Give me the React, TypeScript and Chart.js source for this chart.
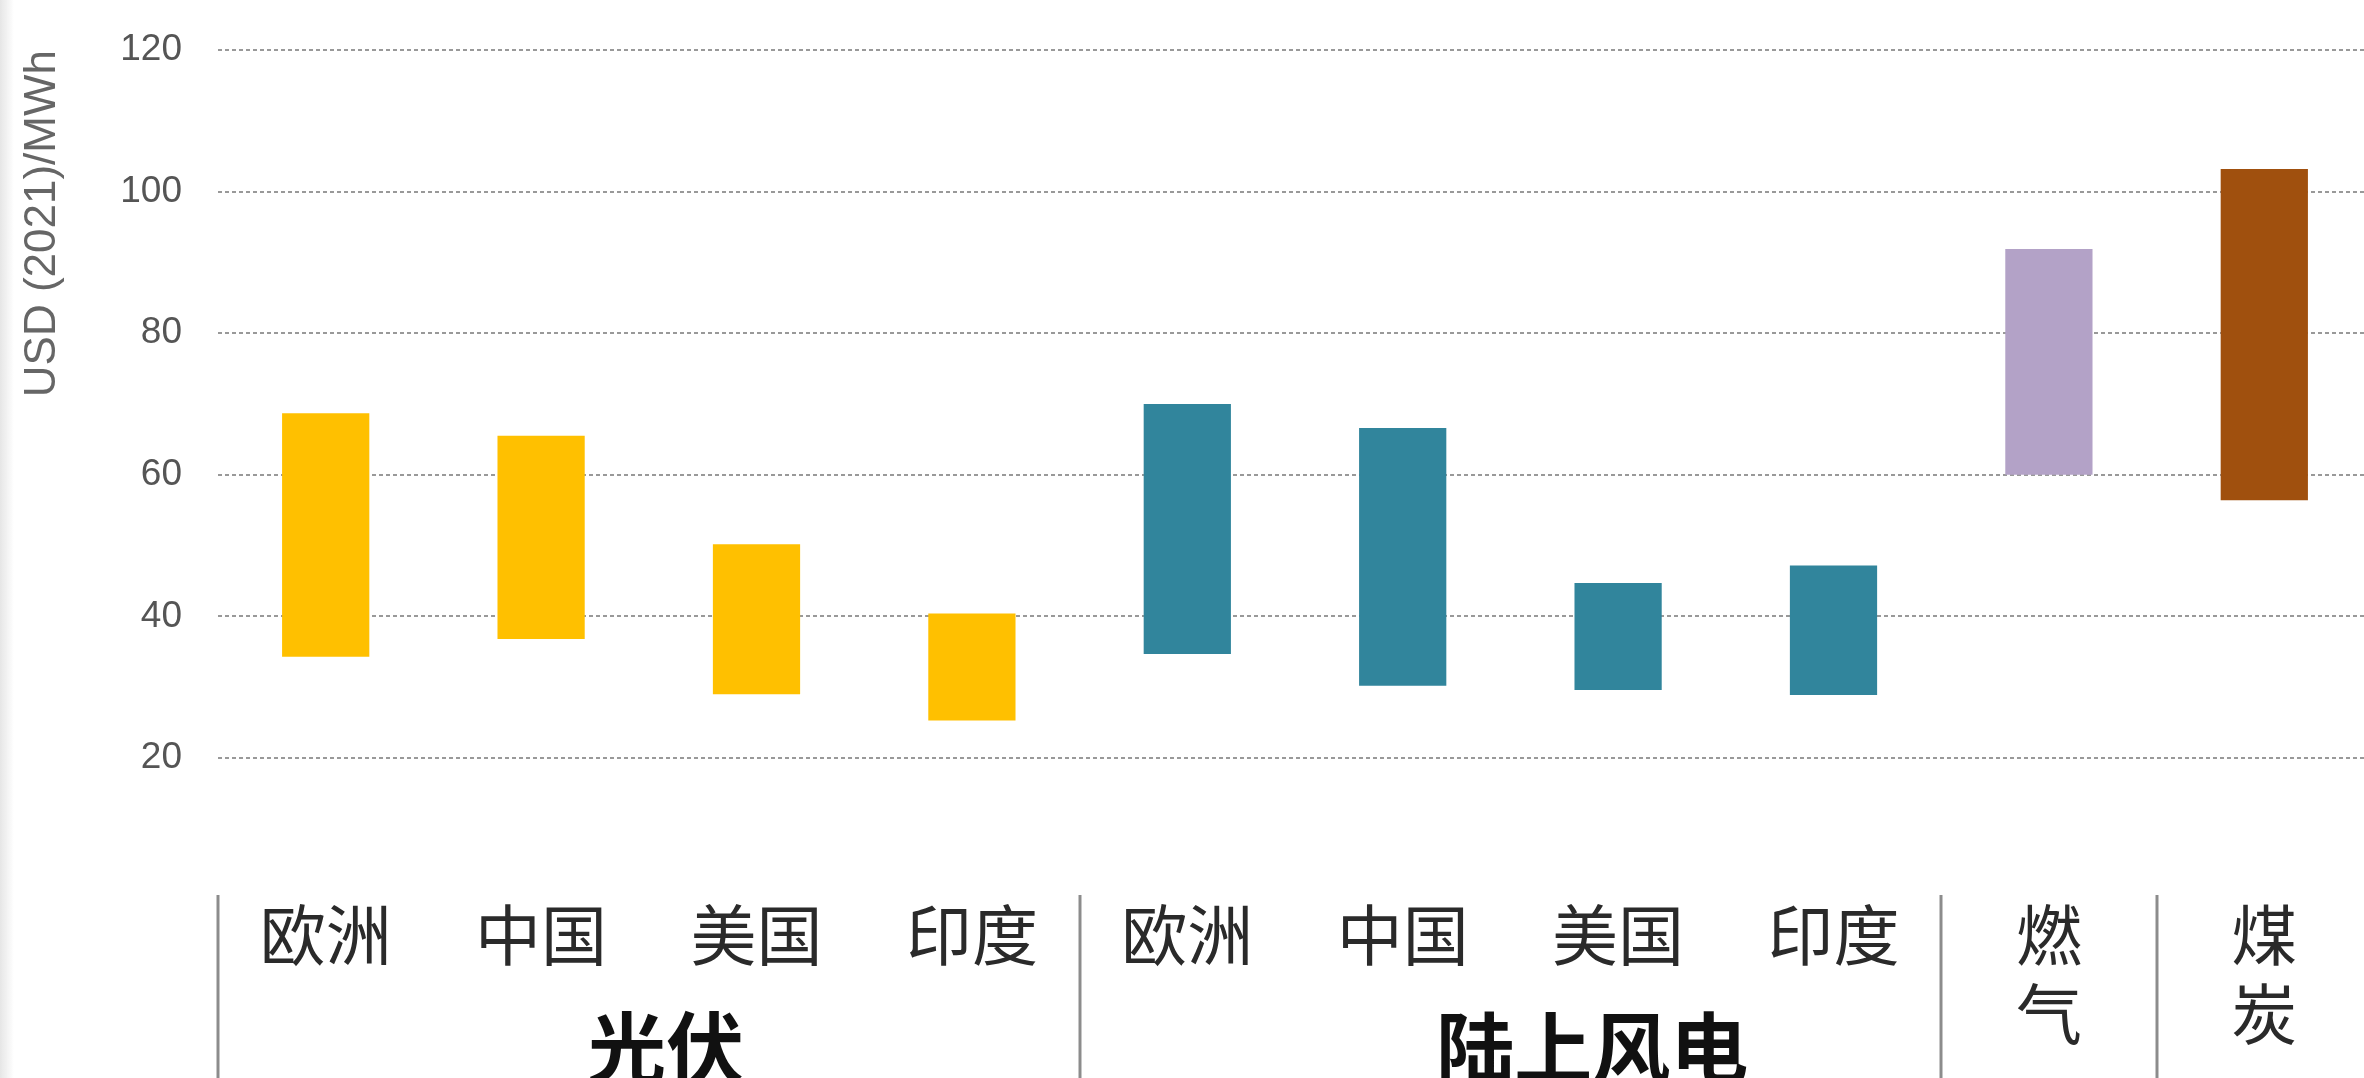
import React, { useEffect, useRef } from "react";
import { Chart, registerables } from "chart.js";

Chart.register(...registerables);

const categories: (string | string[])[] = [
  "欧洲", "中国", "美国", "印度",
  "欧洲", "中国", "美国", "印度",
  ["燃", "气"], ["煤", "炭"],
];
const lowValues = [34.3, 36.8, 29.0, 25.3, 34.7, 30.2, 29.6, 28.9, 60.0, 56.4];
const highValues = [68.7, 65.5, 50.2, 40.4, 70.0, 66.6, 44.7, 47.2, 91.9, 103.2];
const barColors = [
  "#FFC000", "#FFC000", "#FFC000", "#FFC000",
  "#31859C", "#31859C", "#31859C", "#31859C",
  "#B3A2C7", "#A0500E",
];
const groupLabels = ["光伏", "陆上风电"];
const groupLabelAt = [1.58, 5.88];
const separatorsAt = [0, 4, 8, 9, 10];
const yTicks = [20, 40, 60, 80, 100, 120];
const yTitle = "USD (2021)/MWh";

const groupPlugin = {
  id: "groupPlugin",
  afterDraw(chart: any) {
    const { ctx } = chart;
    const xs = chart.scales.x;
    ctx.save();
    ctx.strokeStyle = "#8c8c8c";
    ctx.lineWidth = 3;
    separatorsAt.forEach((b) => {
      const px = Math.round(xs.getPixelForValue(b - 0.5));
      ctx.beginPath();
      ctx.moveTo(px, 895);
      ctx.lineTo(px, chart.height);
      ctx.stroke();
    });
    ctx.fillStyle = "#111";
    ctx.font = "bold 78px 'Noto Sans CJK SC'";
    ctx.textAlign = "center";
    ctx.textBaseline = "middle";
    groupLabels.forEach((lab, i) => {
      const px = xs.getPixelForValue(groupLabelAt[i]);
      ctx.fillText(lab, px, 1048);
    });
    ctx.restore();
  },
};

export default function App() {
  const canvasRef = useRef<HTMLCanvasElement | null>(null);

  useEffect(() => {
    document.body.style.margin = "0";
    const canvas = canvasRef.current;
    if (!canvas) return;
    const chart = new Chart(canvas, {
      type: "bar",
      data: {
        labels: categories as any,
        datasets: [
          {
            data: lowValues.map((lo, i) => [lo, highValues[i]]) as any,
            backgroundColor: barColors,
            borderWidth: 0,
            barPercentage: 0.405,
            categoryPercentage: 1.0,
          },
        ],
      },
      options: {
        animation: false,
        responsive: false,
        devicePixelRatio: 1,
        layout: { padding: { top: 50, right: 8, bottom: 0, left: 0 } },
        plugins: {
          legend: { display: false },
          tooltip: { enabled: false },
        },
        scales: {
          x: {
            grid: { display: false, drawTicks: false },
            border: { display: false },
            afterFit: (scale: any) => {
              scale.height = 320;
              scale.paddingLeft = 0;
              scale.paddingRight = 0;
            },
            ticks: {
              autoSkip: false,
              maxRotation: 0,
              minRotation: 0,
              padding: 137,
              color: "#2a2a2a",
              font: { family: "'Noto Sans CJK SC'", size: 66, lineHeight: 1.2 },
            },
          },
          y: {
            min: 20,
            max: 120,
            afterFit: (scale: any) => {
              scale.width = 218;
              scale.paddingTop = 0;
              scale.paddingBottom = 0;
            },
            afterBuildTicks: (scale: any) => {
              scale.ticks = yTicks.map((v) => ({ value: v }));
            },
            grid: {
              color: "#999999",
              lineWidth: 2,
              drawTicks: false,
            },
            border: { display: false, dash: [4, 3] },
            ticks: {
              padding: 36,
              color: "#555",
              font: { family: "'Liberation Sans'", size: 37 },
            },
            title: {
              display: true,
              text: yTitle,
              align: "end",
              color: "#666",
              font: { family: "'Liberation Sans'", size: 44 },
              padding: { top: 16, bottom: 0 },
            },
          },
        },
      },
      plugins: [groupPlugin],
    });
    return () => chart.destroy();
  }, []);

  return (
    <div
      style={{
        position: "absolute",
        left: 0,
        top: 0,
        width: 2364,
        height: 1078,
        overflow: "hidden",
        background: "#fff",
      }}
    >
      <canvas ref={canvasRef} width={2380} height={1078} style={{ display: "block" }} />
      <div
        style={{
          position: "absolute",
          left: 0,
          top: 0,
          width: 14,
          height: 1078,
          background: "linear-gradient(to right, #e6e6e6, rgba(255,255,255,0))",
          pointerEvents: "none",
        }}
      />
    </div>
  );
}
